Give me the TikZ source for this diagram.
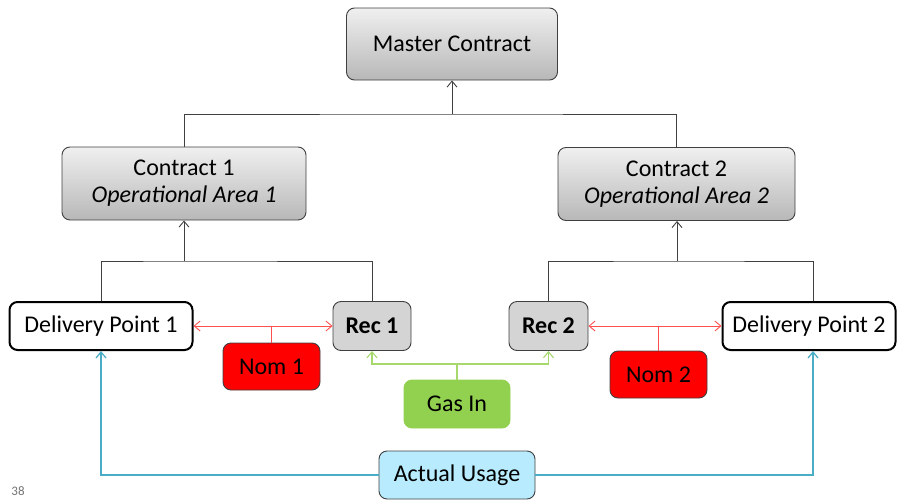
\documentclass[tikz,border=0pt]{standalone}
\usepackage{fontspec}
\setmainfont{Carlito}
\usetikzlibrary{arrows.meta}
\definecolor{redline}{HTML}{FF5050}
\definecolor{greenline}{HTML}{A6D86E}
\definecolor{cyanline}{HTML}{4BACC6}
\definecolor{nomred}{HTML}{FF0000}
\definecolor{gasgreen}{HTML}{92D050}
\definecolor{usagecyan}{HTML}{B7EBFD}
\definecolor{recgray}{HTML}{D4D4D4}
\begin{document}
\begin{tikzpicture}[x=1pt,y=-1pt,
  base/.style={rounded corners=8pt, draw=black!75, line width=0.9pt, inner sep=0pt, font=\fontsize{24}{27}\selectfont, align=center},
  graybox/.style={base, top color=white!94!black, bottom color=black!28},
  recbox/.style={base, fill=recgray, font=\fontsize{24}{27}\selectfont\bfseries},
  dpbox/.style={base, draw=black, line width=2pt, fill=white},
  nombox/.style={base, fill=nomred},
  gasbox/.style={base, draw=gasgreen, fill=gasgreen},
  usebox/.style={base, fill=usagecyan},
  tip/.style={-{Straight Barb[length=6pt,width=10pt]}},
  conn/.style={draw=black!75, line width=0.9pt},
]
\useasboundingbox (0,0) rectangle (898,501);
\node[graybox, minimum width=211pt, minimum height=72pt] (master) at (452,44) {Master Contract};
\node[graybox, minimum width=244pt, minimum height=73pt] (c1) at (184,183.5) {Contract 1\\\textit{Operational Area 1}};
\node[graybox, minimum width=237pt, minimum height=73pt] (c2) at (676.5,184) {Contract 2\\\textit{Operational Area 2}};
\node[dpbox, minimum width=183pt, minimum height=48pt] (dp1) at (101,326) {Delivery Point 1};
\node[recbox, minimum width=78pt, minimum height=49pt] (rec1) at (372,326) {Rec 1};
\node[recbox, minimum width=79pt, minimum height=49pt] (rec2) at (548.5,326) {Rec 2};
\node[dpbox, minimum width=173pt, minimum height=48pt] (dp2) at (809,326) {Delivery Point 2};
\node[nombox, minimum width=97pt, minimum height=47pt] (nom1) at (271.5,366.5) {Nom 1};
\node[nombox, minimum width=97pt, minimum height=47pt] (nom2) at (658.5,374.5) {Nom 2};
\node[gasbox, minimum width=106pt, minimum height=48pt] (gas) at (457,404) {Gas In};
\node[usebox, minimum width=156pt, minimum height=48pt] (use) at (457,475) {Actual Usage};
\node[text=black!55, font=\fontsize{13}{15}\selectfont] (pg) at (18,491) {38};

% top tree
\coordinate (t0) at (452,114);
\draw[conn] (c1.north) |- (t0) -| (c2.north);
\draw[conn,tip] (t0) -- (master.south);
% contract 1 tree
\coordinate (t1) at (184,261);
\draw[conn] (dp1.north -| 101,0) |- (t1) -| (rec1.north);
\draw[conn,tip] (t1) -- (c1.south);
% contract 2 tree
\coordinate (t2) at (677,261);
\draw[conn] (rec2.north) |- (t2) -| (dp2.north -| 813,0);
\draw[conn,tip] (t2) -- (c2.south -| t2);
% red
\draw[draw=redline, line width=0.9pt, {Straight Barb[length=6pt,width=10pt]}-{Straight Barb[length=6pt,width=10pt]}] (dp1.east) -- (rec1.west);
\draw[draw=redline, line width=0.9pt] (nom1.north) -- (nom1.north |- dp1.east);
\draw[draw=redline, line width=0.9pt, {Straight Barb[length=6pt,width=10pt]}-{Straight Barb[length=6pt,width=10pt]}] (rec2.east) -- (dp2.west);
\draw[draw=redline, line width=0.9pt] (nom2.north) -- (nom2.north |- dp2.west);
% green
\coordinate (g0) at (457,364);
\draw[draw=greenline, line width=1.1pt] (gas.north) -- (g0);
\draw[draw=greenline, line width=1.1pt, tip] (g0) -| (rec1.south);
\draw[draw=greenline, line width=1.1pt, tip] (g0) -| (rec2.south);
% cyan
\draw[draw=cyanline, line width=1.3pt, tip] (use.west) -| (dp1.south -| 101,0);
\draw[draw=cyanline, line width=1.3pt, tip] (use.east) -| (dp2.south -| 813,0);
\end{tikzpicture}
\end{document}
